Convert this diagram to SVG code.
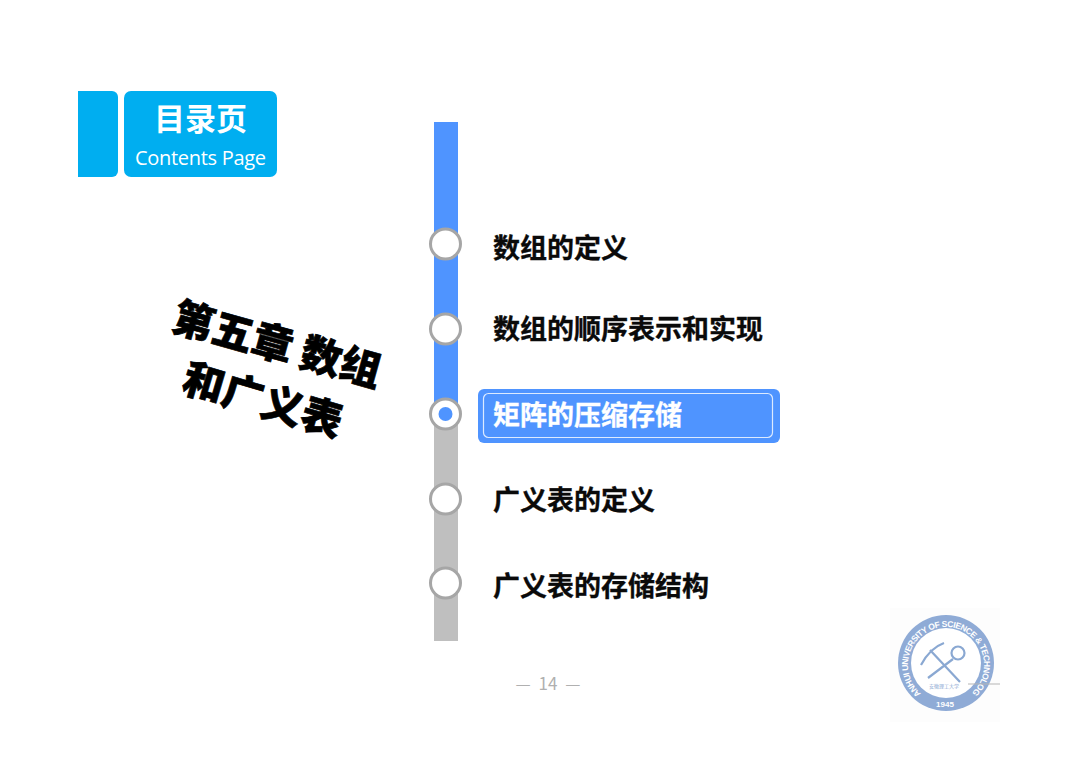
<svg xmlns="http://www.w3.org/2000/svg" width="1080" height="763" viewBox="0 0 1080 763">
<style>
text{font-family:"Noto Sans CJK SC","Noto Sans",sans-serif}
.item{font-size:27px;font-weight:700;fill:#0a0a0a;stroke:#0a0a0a;stroke-width:.35}
.ring{fill:#fff;stroke:#a6a6a6;stroke-width:3}
.big{font-size:41px;font-weight:900;fill:#000;stroke:#000;stroke-width:.7}
.seal{fill:#fff;font-family:"Liberation Sans",sans-serif;font-weight:700}
.tool{fill:none;stroke:#8aa8d2;stroke-width:2.200}
</style>
<defs><path id="arc" d="M 921 693.500 A 38 38 0 1 1 971 693.500"/></defs>
<rect width="1080" height="763" fill="#fff"/>
<g id="header">
<path d="M78 91H112a6 6 0 0 1 6 6V171a6 6 0 0 1-6 6H78Z" fill="#00aef0"/>
<rect x="124" y="91" width="153" height="86" rx="7" fill="#00aef0"/>
<text x="200.500" y="130" text-anchor="middle" font-size="31" font-weight="700" fill="#fff">目录页</text>
<text x="200.500" y="165" text-anchor="middle" font-size="20" style="font-family:'Open Sans',sans-serif" fill="#fff" textLength="131">Contents Page</text>
</g>
<g id="chapter-title">
<text class="big" transform="translate(170 330) rotate(15.500)">第五章 数组</text>
<text class="big" transform="translate(180 391) rotate(16.500)">和广义表</text>
</g>
<g id="connectors">
<rect x="434" y="122" width="24" height="293" fill="#4f94ff"/>
<rect x="434" y="415" width="24" height="226" fill="#bfbfbf"/>
</g>
<g id="node-1"><circle class="ring" cx="445.500" cy="244" r="15"/><text class="item" x="493" y="258">数组的定义</text></g>
<g id="node-2"><circle class="ring" cx="445.500" cy="329" r="15"/><text class="item" x="493" y="339">数组的顺序表示和实现</text></g>
<g id="node-3">
<rect x="478" y="389" width="302" height="54" rx="6" fill="#4f94ff"/>
<rect x="483.500" y="393.500" width="289" height="44" rx="5" fill="none" stroke="#fff" stroke-opacity=".8" stroke-width="1.200"/>
<circle class="ring" cx="445.500" cy="414" r="15"/><circle cx="445.500" cy="414" r="7" fill="#4f94ff"/>
<text x="493" y="425" font-size="27" font-weight="700" fill="#fff" stroke="#fff" stroke-width=".35">矩阵的压缩存储</text>
</g>
<g id="node-4"><circle class="ring" cx="445.500" cy="499" r="15"/><text class="item" x="493" y="510">广义表的定义</text></g>
<g id="node-5"><circle class="ring" cx="445.500" cy="583" r="15"/><text class="item" x="493" y="596">广义表的存储结构</text></g>
<g id="footer">
<text x="548" y="690" text-anchor="middle" font-size="17" word-spacing="4" fill="#b0b0b0">— 14 —</text>
</g>
<g id="seal">
<rect x="890" y="608" width="110" height="114" fill="#fdfdfd"/>
<circle cx="946" cy="663" r="48" fill="#8fabd6"/>
<circle cx="946" cy="663" r="35" fill="#fff"/>
<text class="seal" font-size="8.500"><textPath href="#arc" textLength="188" lengthAdjust="spacing">ANHUI UNIVERSITY OF SCIENCE &amp; TECHNOLOGY</textPath></text>
<text x="945" y="707" text-anchor="middle" font-size="8" class="seal">1945</text>
<path class="tool" d="M921 665Q930 648 944 643M930 650L960 682M953 659L928 678"/>
<circle cx="958" cy="653" r="6.500" fill="#fff" stroke="#8aa8d2" stroke-width="2.200"/>
<text x="944" y="688" text-anchor="middle" font-size="5" fill="#8aa8d2">安徽理工大学</text>
<path d="M968 684H1000" stroke="#b5b5b5" stroke-width="1"/>
</g>
</svg>
